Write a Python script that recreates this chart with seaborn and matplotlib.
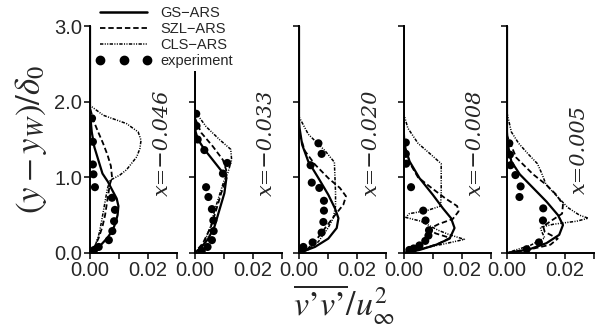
import numpy as np
import pandas as pd
import matplotlib
matplotlib.use("Agg")
import matplotlib.pyplot as plt
from matplotlib.lines import Line2D
import seaborn as sns

# station labels
stations = ["x=\u22120.046", "x=\u22120.033", "x=\u22120.020", "x=\u22120.008", "x=0.005"]

# GS-ARS (solid)
gs_y = [
    [3.0, 1.85, 1.6, 1.4, 1.2, 1.05, 0.94, 0.85, 0.72, 0.62, 0.5, 0.4, 0.3, 0.2, 0.1, 0.04, 0.0],
    [3.0, 1.85, 1.6, 1.5, 1.37, 1.23, 1.06, 0.99, 0.79, 0.57, 0.35, 0.18, 0.06, 0.0],
    [3.0, 1.75, 1.65, 1.43, 1.21, 0.99, 0.77, 0.59, 0.46, 0.33, 0.19, 0.08, 0.0],
    [3.0, 1.7, 1.43, 1.21, 0.99, 0.77, 0.59, 0.46, 0.33, 0.19, 0.11, 0.04, 0.0],
    [3.0, 1.6, 1.43, 1.21, 1.04, 0.86, 0.68, 0.5, 0.37, 0.24, 0.13, 0.05, 0.0],
]
gs_x = [
    [0, 0, 0.0006, 0.0015, 0.0031, 0.0043, 0.0062, 0.0074, 0.0092, 0.0098, 0.0095, 0.0088, 0.0078, 0.006, 0.0036, 0.0015, 0],
    [0, 0, 0.0004, 0.0012, 0.0034, 0.0063, 0.0098, 0.011, 0.0103, 0.0086, 0.0069, 0.0046, 0.002, 0],
    [0, 0, 0.0002, 0.0011, 0.0032, 0.0067, 0.0101, 0.0124, 0.0136, 0.013, 0.0101, 0.0055, 0],
    [0, 0, 0.0003, 0.0021, 0.0055, 0.0101, 0.0136, 0.0164, 0.0176, 0.0159, 0.0113, 0.0055, 0],
    [0, 0, 0.0003, 0.0015, 0.0044, 0.009, 0.0136, 0.0176, 0.0193, 0.018, 0.0136, 0.0078, 0],
]

# SZL-ARS (dashed)
szl_y = [
    [3.0, 1.92, 1.75, 1.6, 1.45, 1.3, 1.15, 1.0, 0.9, 0.8, 0.65, 0.5, 0.35, 0.2, 0.1, 0.0],
    [3.0, 1.8, 1.59, 1.41, 1.23, 1.1, 0.99, 0.79, 0.57, 0.35, 0.13, 0.0],
    [3.0, 1.6, 1.35, 1.17, 0.99, 0.86, 0.75, 0.64, 0.5, 0.33, 0.15, 0.04, 0.0],
    [3.0, 1.5, 1.2, 1.0, 0.85, 0.72, 0.62, 0.55, 0.45, 0.38, 0.32, 0.26, 0.2, 0.12, 0.05, 0.0],
    [3.0, 1.55, 1.26, 1.04, 0.9, 0.77, 0.64, 0.52, 0.42, 0.35, 0.28, 0.19, 0.11, 0.04, 0.0],
]
szl_x = [
    [0, 0, 0.0012, 0.0028, 0.0045, 0.006, 0.0072, 0.0076, 0.0068, 0.0064, 0.0058, 0.0052, 0.0043, 0.003, 0.0018, 0],
    [0, 0, 0.0023, 0.0063, 0.0098, 0.0109, 0.011, 0.0092, 0.0075, 0.0057, 0.0029, 0],
    [0, 0, 0.002, 0.0055, 0.0101, 0.0141, 0.0162, 0.0153, 0.0124, 0.009, 0.0055, 0.0026, 0],
    [0, 0, 0.002, 0.005, 0.010, 0.0145, 0.0185, 0.019, 0.017, 0.012, 0.009, 0.011, 0.016, 0.012, 0.006, 0],
    [0, 0, 0.0032, 0.009, 0.0136, 0.017, 0.0193, 0.019, 0.015, 0.0125, 0.013, 0.0175, 0.015, 0.007, 0],
]

# CLS-ARS (dash-dot-dot)
cls_y = [
    [3.0, 1.95, 1.82, 1.71, 1.6, 1.49, 1.38, 1.27, 1.1, 1.03, 0.96, 0.85, 0.7, 0.55, 0.4, 0.25, 0.12, 0.04, 0.0],
    [3.0, 1.88, 1.67, 1.5, 1.37, 1.23, 1.06, 0.97, 0.79, 0.57, 0.35, 0.13, 0.0],
    [3.0, 1.8, 1.57, 1.35, 1.2, 1.0, 0.8, 0.62, 0.46, 0.33, 0.15, 0.04, 0.0],
    [3.0, 1.85, 1.65, 1.45, 1.3, 1.18, 1.0, 0.8, 0.62, 0.56, 0.52, 0.47, 0.42, 0.36, 0.3, 0.24, 0.18, 0.12, 0.05, 0.0],
    [3.0, 1.85, 1.6, 1.45, 1.3, 1.18, 1.05, 0.9, 0.8, 0.7, 0.6, 0.5, 0.46, 0.42, 0.38, 0.34, 0.28, 0.2, 0.1, 0.04, 0.0],
]
cls_x = [
    [0, 0, 0.0046, 0.0126, 0.0166, 0.0176, 0.0172, 0.0161, 0.0126, 0.0103, 0.0069, 0.006, 0.0053, 0.0046, 0.0039, 0.0031, 0.002, 0.0008, 0],
    [0, 0, 0.004, 0.0086, 0.0125, 0.0128, 0.0115, 0.0103, 0.0088, 0.007, 0.0055, 0.0033, 0],
    [0, 0, 0.0032, 0.009, 0.0122, 0.0124, 0.0126, 0.0126, 0.0118, 0.010, 0.0067, 0.003, 0],
    [0, 0, 0.0015, 0.005, 0.0095, 0.013, 0.013, 0.013, 0.0128, 0.008, 0.002, 0.0008, 0.006, 0.009, 0.012, 0.016, 0.021, 0.014, 0.005, 0],
    [0, 0, 0.0015, 0.004, 0.0075, 0.0105, 0.012, 0.0135, 0.016, 0.0185, 0.021, 0.025, 0.028, 0.024, 0.016, 0.0115, 0.012, 0.013, 0.008, 0.003, 0],
]

# experiment
exp_y = [
    [1.78, 1.47, 1.17, 1.04, 0.87, 0.73, 0.57, 0.42, 0.29, 0.17, 0.08, 0.04],
    [1.84, 1.68, 1.50, 1.36, 1.19, 1.05, 0.87, 0.74, 0.58, 0.43, 0.29, 0.17, 0.08, 0.03],
    [1.45, 1.31, 1.16, 0.93, 0.86, 0.69, 0.56, 0.41, 0.27, 0.14, 0.08, 0.04],
    [1.46, 1.31, 1.18, 0.87, 0.56, 0.43, 0.30, 0.23, 0.16, 0.10, 0.06, 0.04],
    [1.45, 1.30, 1.16, 1.03, 0.88, 0.74, 0.59, 0.43, 0.14, 0.05],
]
exp_x = [
    [0.0007, 0.0010, 0.0010, 0.0012, 0.0017, 0.0076, 0.0086, 0.0083, 0.0077, 0.0065, 0.0030, 0.0014],
    [0.0006, 0.0007, 0.0011, 0.0034, 0.0113, 0.0098, 0.0040, 0.0048, 0.0060, 0.0065, 0.0066, 0.0060, 0.0045, 0.0025],
    [0.0067, 0.0078, 0.0040, 0.0044, 0.0070, 0.0086, 0.0086, 0.0084, 0.0078, 0.0047, 0.0015, 0.0010],
    [0.0008, 0.0008, 0.0009, 0.0026, 0.0068, 0.0076, 0.0088, 0.0086, 0.0075, 0.0055, 0.0035, 0.0020],
    [0.0008, 0.0010, 0.0012, 0.0029, 0.0047, 0.0043, 0.0125, 0.0124, 0.0110, 0.0068],
]

sns.set_style("ticks")
plt.rcParams['font.family'] = ['Liberation Sans', 'DejaVu Sans']
plt.rcParams['mathtext.fontset'] = 'stix'

fig = plt.figure(figsize=(6.02, 3.27), dpi=100)
W, H = 602, 327
lefts = [90, 194.5, 299, 403.5, 507]

dash_szl = (3.0, 1.6)
dash_cls = (2.2, 0.9, 0.7, 0.9, 0.7, 0.9)

for i in range(5):
    ax = fig.add_axes([lefts[i] / W, (H - 253) / H, 87 / W, 227 / H])
    sns.lineplot(x=gs_x[i], y=gs_y[i], sort=False, estimator=None, ax=ax,
                 color='black', lw=1.6)
    sns.lineplot(x=szl_x[i], y=szl_y[i], sort=False, estimator=None, ax=ax,
                 color='black', lw=1.3).lines[-1].set_dashes(dash_szl)
    sns.lineplot(x=cls_x[i], y=cls_y[i], sort=False, estimator=None, ax=ax,
                 color='black', lw=1.1).lines[-1].set_dashes(dash_cls)
    sns.scatterplot(x=exp_x[i], y=exp_y[i], ax=ax, color='black', s=34,
                    edgecolor='none', zorder=5)
    ax.set_xlim(0, 0.03)
    ax.set_ylim(0, 3)
    ax.set_xticks([0, 0.01, 0.02, 0.03])
    ax.set_xticklabels(['0.00', '', '0.02', ''])
    ax.set_yticks([0, 1, 2, 3])
    if i == 0:
        ax.set_yticklabels(['0.0', '1.0', '2.0', '3.0'])
    else:
        ax.set_yticklabels([])
    ax.tick_params(length=4, width=1.1, labelsize=14.5, pad=1.5, color='black')
    for s in ['top', 'right']:
        ax.spines[s].set_visible(False)
    for s in ['left', 'bottom']:
        ax.spines[s].set_linewidth(1.4)
        ax.spines[s].set_color('black')
    ax.set_xlabel('')
    ax.set_ylabel('')
    ax.patch.set_alpha(0)
    ax.text(0.0249, 1.46 if i < 4 else 1.37, stations[i], rotation=90,
            ha='center', va='center', fontsize=15,
            family='DejaVu Serif', style='italic')

fig.text(31 / W, 1 - 140 / H, r'$(y-y_W)/\delta_0$', rotation=90,
         ha='center', va='center', fontsize=25)
fig.text(344 / W, 1 - 305 / H, "$\\overline{v\u2019v\u2019}/u_{\\infty}^{2}$",
         ha='center', va='center', fontsize=24.5)

handles = [
    Line2D([], [], color='black', lw=1.8),
    Line2D([], [], color='black', lw=1.3, dashes=dash_szl),
    Line2D([], [], color='black', lw=1.1, dashes=dash_cls),
    Line2D([], [], color='black', ls='none', marker='o', markersize=6),
]
labels = ['GS\u2212ARS', 'SZL\u2212ARS', 'CLS\u2212ARS', 'experiment']
leg = fig.legend(handles, labels, loc='upper left', bbox_to_anchor=(93 / W, 1 - 3 / H),
                 fontsize=10.5, frameon=True, facecolor='white', edgecolor='none',
                 framealpha=1, handlelength=3.8, handletextpad=0.6, numpoints=3,
                 labelspacing=0.14, borderpad=0.2, borderaxespad=0, fancybox=False)

fig.savefig('out.png', dpi=100)
